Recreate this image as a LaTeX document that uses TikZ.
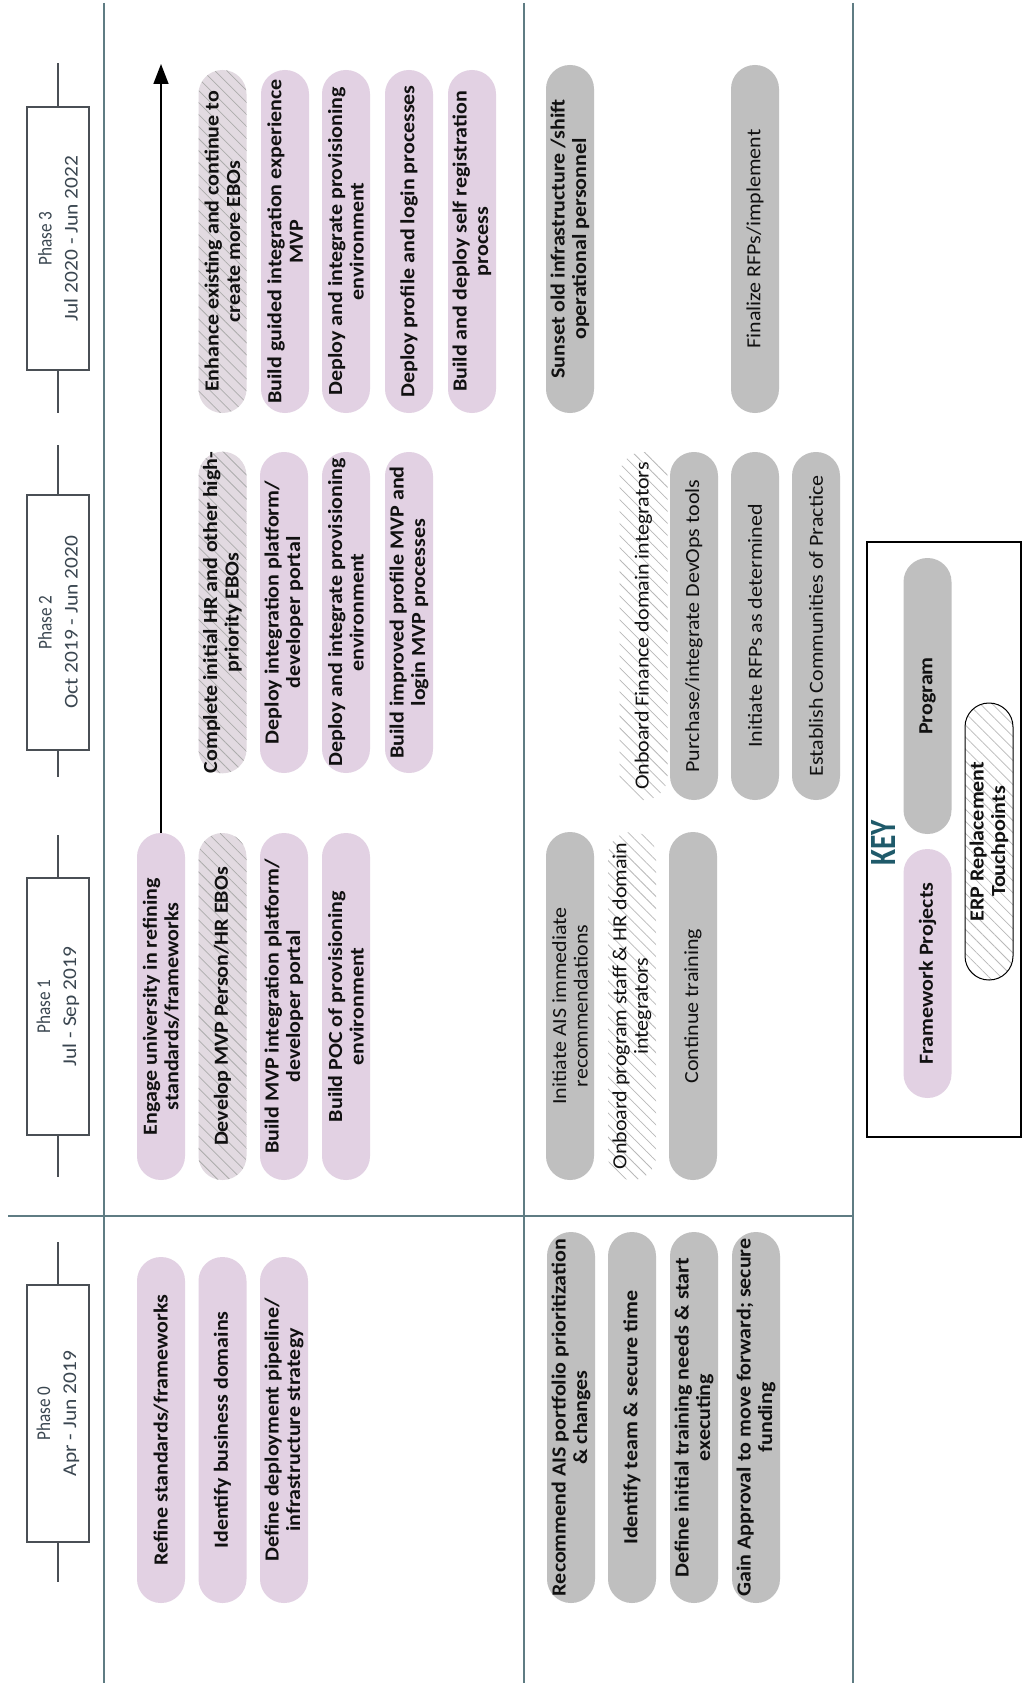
\documentclass[tikz,border=0pt]{standalone}
\usepackage{graphicx}
\usepackage{fontspec}
\setmainfont{Carlito}[FakeStretch=1.1]
\usetikzlibrary{arrows.meta,patterns.meta}

\definecolor{fwpink}{HTML}{E2D1E3}
\definecolor{pggray}{HTML}{BFBFBF}
\definecolor{hatchbase}{HTML}{E2DAE1}
\definecolor{rulecol}{HTML}{5F7C83}
\definecolor{boxcol}{HTML}{4A4F55}
\definecolor{phaseink}{HTML}{3A4650}
\definecolor{keyteal}{HTML}{1F5A6A}
\definecolor{inkcol}{HTML}{111111}

\tikzset{
  x=1pt, y=1pt,
  txt/.style={font=\fontsize{20}{21.5}\selectfont, text=inkcol},
  txtb/.style={font=\fontsize{20}{21.5}\selectfont\bfseries, text=inkcol},
  pill/.style={rectangle, rotate=90, minimum height=48pt, rounded corners=23.9pt,
    inner sep=0pt, align=center, draw=none},
  hatch/.style={pattern={Lines[angle=-45,distance=8.5pt,line width=0.75pt]}},
  fw/.style={pill, txtb, fill=fwpink},
  fwh/.style={pill, txtb, preaction={fill=hatchbase}, hatch, pattern color=gray!65},
  pg/.style={pill, txt, fill=pggray},
  pgb/.style={pill, txtb, fill=pggray},
  pgh/.style={pill, txt, preaction={fill=white}, hatch, pattern color=gray!55},
  phasebox/.style={rectangle, rotate=90, draw=boxcol, line width=1.3pt, fill=white,
    minimum height=62pt, inner sep=0pt, align=center, text=phaseink,
    font=\fontsize{19.5}{26}\selectfont},
  tick/.style={draw=boxcol, line width=1.3pt},
  sep/.style={draw=rulecol, line width=1.7pt},
}

\begin{document}
\begin{tikzpicture}
\useasboundingbox[fill=white] (0,0) rectangle (1024,-1683);

% ---------- frame lines ----------
\coordinate (v1t) at (104,-3);   \coordinate (v1b) at (104,-1683);
\coordinate (v2t) at (524,-3);   \coordinate (v2b) at (524,-1683);
\coordinate (v3t) at (853,-3);   \coordinate (v3b) at (853,-1683);
\coordinate (hl)  at (8,-1216);  \coordinate (hr)  at (853,-1216);
\draw[sep] (v1t) -- (v1b);
\draw[sep] (v2t) -- (v2b);
\draw[sep] (v3t) -- (v3b);
\draw[sep] (hl) -- (hr);

% ---------- phase headers ----------
\node[phasebox, minimum width=257pt] (ph0) at (58,-1413.5) {\scalebox{0.8}[1]{Phase 0}\\Apr - Jun 2019};
\node[phasebox, minimum width=257pt] (ph1) at (58,-1006.5) {\scalebox{0.8}[1]{Phase 1}\\Jul - Sep 2019};
\node[phasebox, minimum width=255pt] (ph2) at (58,-622.5) {\scalebox{0.8}[1]{Phase 2}\\Oct 2019 - Jun 2020};
\node[phasebox, minimum width=263pt] (ph3) at (58,-238.5) {\scalebox{0.8}[1]{Phase 3}\\Jul 2020 - Jun 2022};

\coordinate (t0a) at (58,-1242); \coordinate (t0b) at (58,-1582);
\coordinate (t1a) at (58,-835);  \coordinate (t1b) at (58,-1177);
\coordinate (t2a) at (58,-445);  \coordinate (t2b) at (58,-777);
\coordinate (t3a) at (58,-63);   \coordinate (t3b) at (58,-413);
\draw[tick] (ph0.east) -- (t0a); \draw[tick] (ph0.west) -- (t0b);
\draw[tick] (ph1.east) -- (t1a); \draw[tick] (ph1.west) -- (t1b);
\draw[tick] (ph2.east) -- (t2a); \draw[tick] (ph2.west) -- (t2b);
\draw[tick] (ph3.east) -- (t3a); \draw[tick] (ph3.west) -- (t3b);

% ---------- framework projects ----------
% phase 0
\node[fw, minimum width=346pt] (f0a) at (161,-1430) {Refine standards/frameworks};
\node[fw, minimum width=346pt] (f0b) at (222.5,-1430) {Identify business domains};
\node[fw, minimum width=346pt] (f0c) at (284,-1430) {Define deployment pipeline/\\infrastructure strategy};
% phase 1
\node[fw,  minimum width=347pt] (f1a) at (161,-1006.5) {Engage university in refining\\standards/frameworks};
\node[fwh, minimum width=347pt] (f1b) at (222.5,-1006.5) {Develop MVP Person/HR EBOs};
\node[fw,  minimum width=347pt] (f1c) at (284,-1006.5) {Build MVP integration platform/\\developer portal};
\node[fw,  minimum width=347pt] (f1d) at (346,-1006.5) {Build POC of provisioning\\environment};
% phase 2
\node[fwh, minimum width=321pt] (f2b) at (222.5,-612.5) {Complete initial HR and other high-\\priority EBOs};
\node[fw,  minimum width=321pt] (f2c) at (284,-612.5) {Deploy integration platform/\\developer portal};
\node[fw,  minimum width=321pt] (f2d) at (346,-612.5) {Deploy and integrate provisioning\\environment};
\node[fw,  minimum width=321pt] (f2e) at (409,-612.5) {Build improved profile MVP and\\login MVP processes};
% phase 3
\node[fwh, minimum width=343pt] (f3b) at (222.5,-241.5) {Enhance existing and continue to\\create more EBOs};
\node[fw,  minimum width=343pt] (f3c) at (285,-241.5) {Build guided integration experience\\MVP};
\node[fw,  minimum width=343pt] (f3d) at (346,-241.5) {Deploy and integrate provisioning\\environment};
\node[fw,  minimum width=343pt] (f3e) at (409,-241.5) {Deploy profile and login processes};
\node[fw,  minimum width=343pt] (f3f) at (472,-241.5) {Build and deploy self registration\\process};

% continuation arrow
\coordinate (arrtip) at (161,-64);
\draw[line width=1.5pt, -{Triangle[length=20pt,width=15pt]}] (f1a.east) -- (arrtip);

% ---------- program ----------
% phase 0
\node[pgb, minimum width=371pt] (g0a) at (571,-1417.5) {Recommend AIS portfolio prioritization\\\& changes};
\node[pgb, minimum width=371pt] (g0b) at (632,-1417.5) {Identify team \& secure time};
\node[pgb, minimum width=371pt] (g0c) at (694,-1417.5) {Define initial training needs \& start\\executing};
\node[pgb, minimum width=371pt] (g0d) at (756,-1417.5) {Gain Approval to move forward; secure\\funding};
% phase 1
\node[pg,  minimum width=348pt] (g1a) at (570,-1006) {Initiate AIS immediate\\recommendations};
\node[pgh, minimum width=348pt] (g1b) at (632,-1006) {Onboard program staff \& HR domain\\integrators};
\node[pg,  minimum width=348pt] (g1c) at (693,-1006) {Continue training};
% phase 2
\node[pgh, minimum width=348pt] (g2a) at (643.5,-626) {Onboard Finance domain integrators};
\node[pg,  minimum width=348pt] (g2b) at (694,-626) {Purchase/integrate DevOps tools};
\node[pg,  minimum width=348pt] (g2c) at (755,-626) {Initiate RFPs as determined};
\node[pg,  minimum width=348pt] (g2d) at (816,-626) {Establish Communities of Practice};
% phase 3
\node[pgb, minimum width=348pt] (g3a) at (570,-239) {Sunset old infrastructure /shift\\operational personnel};
\node[pg,  minimum width=348pt] (g3b) at (755,-239) {Finalize RFPs/implement};

% ---------- key ----------
\node[draw=black, line width=1.1pt, minimum width=154pt, minimum height=595pt, inner sep=0pt] (keybox) at (944,-839.5) {};
\node[rotate=90, text=keyteal, font=\fontsize{37}{37}\selectfont\bfseries, inner sep=0pt] (keylbl) at (883,-843) {\scalebox{0.72}[1]{KEY}};
\node[pgb, minimum width=276pt] (kprog) at (927.5,-696) {Program};
\node[fw,  minimum width=249pt] (kfw) at (927.5,-973.5) {Framework Projects};
\node[pgh, txtb, draw=black, line width=1pt, minimum width=277pt] (kerp) at (989,-841.5) {ERP Replacement\\Touchpoints};

\end{tikzpicture}
\end{document}
